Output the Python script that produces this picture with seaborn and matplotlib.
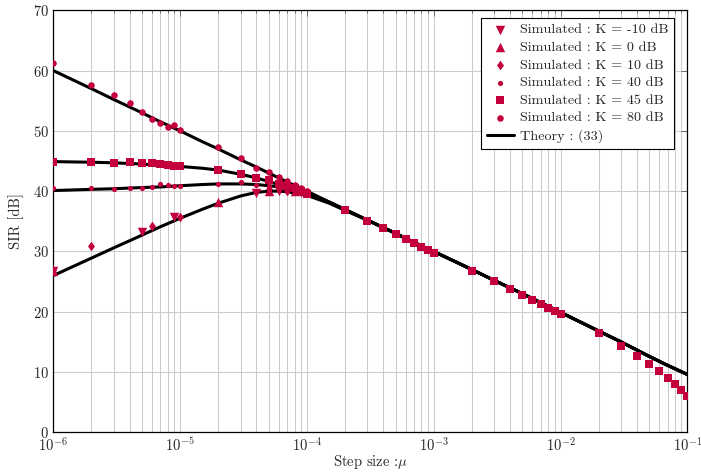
import matplotlib
matplotlib.use("Agg")
import matplotlib.pyplot as plt
import seaborn as sns
import pandas as pd
from matplotlib.ticker import LogLocator, NullFormatter

# ---------------- data ----------------
# theory curves (SIR in dB vs step size); low step-size part differs per K
theory_mu_head = [1e-6, 2e-6, 3e-6, 5e-6, 7e-6,
                  1e-5, 1.5e-5, 2e-5, 3e-5, 4e-5, 5e-5, 6e-5, 7e-5, 8.5e-5,
                  1e-4, 1.5e-4, 2e-4]
theory_k80_head = [60.0, 57.0, 55.2, 53.0, 51.5, 50.0, 48.2, 47.0, 45.2, 44.0,
                   43.0, 42.2, 41.5, 40.7, 40.0, 38.2, 37.0]
theory_k45_head = [44.9, 44.8, 44.7, 44.5, 44.3, 44.1, 43.8, 43.5, 42.8, 42.2,
                   41.6, 41.1, 40.7, 40.1, 39.6, 38.1, 36.9]
theory_k40_head = [40.1, 40.3, 40.4, 40.6, 40.7, 40.9, 41.1, 41.2, 41.2, 41.1,
                   40.9, 40.7, 40.4, 40.0, 39.6, 38.2, 36.9]
theory_low_head = [26.0, 28.9, 30.6, 32.7, 34.1, 35.5, 37.0, 38.0, 39.2, 39.8,
                   40.0, 40.0, 39.9, 39.6, 39.3, 38.0, 36.8]
# common high step-size part
theory_mu_tail = [3e-4, 5e-4, 7e-4,
                  1e-3, 2e-3, 3e-3, 5e-3, 7e-3,
                  1e-2, 2e-2, 3e-2, 5e-2, 7e-2,
                  1e-1]
theory_tail = [35.2, 33.0, 31.5,
               30.0, 27.0, 25.2, 23.0, 21.5,
               19.9, 16.8, 15.0, 12.6, 11.1,
               9.6]

# simulated points
mu_k45 = [1e-6, 2e-6, 3e-6, 4e-6, 5e-6, 6e-6, 7e-6, 8e-6, 9e-6,
          1e-5, 2e-5, 3e-5, 4e-5, 5e-5, 6e-5, 7e-5, 8e-5, 9e-5,
          1e-4, 2e-4, 3e-4, 4e-4, 5e-4, 6e-4, 7e-4, 8e-4, 9e-4,
          1e-3, 2e-3, 3e-3, 4e-3, 5e-3, 6e-3, 7e-3, 8e-3, 9e-3,
          1e-2, 2e-2, 3e-2, 4e-2, 5e-2, 6e-2, 7e-2, 8e-2, 9e-2,
          1e-1]
sir_k45 = [44.9, 44.9, 44.6, 44.9, 44.7, 44.6, 44.5, 44.4, 44.1,
           44.2, 43.5, 42.9, 42.1, 41.9, 41.2, 40.9, 40.6, 40.1,
           39.5, 36.8, 35.1, 33.9, 32.9, 32.1, 31.4, 30.8, 30.3,
           29.8, 26.8, 25.1, 23.7, 22.8, 22.0, 21.3, 20.7, 20.1,
           19.7, 16.4, 14.3, 12.6, 11.4, 10.2, 9.0, 8.0, 7.0,
           6.0]

mu_k80 = [1e-6, 2e-6, 3e-6, 4e-6, 5e-6, 6e-6, 7e-6, 8e-6, 9e-6,
          1e-5, 2e-5, 3e-5, 4e-5, 5e-5, 6e-5, 7e-5, 8e-5, 9e-5, 1e-4]
sir_k80 = [61.3, 57.6, 56.0, 54.6, 53.2, 51.9, 51.3, 50.7, 51.0,
           50.1, 47.3, 45.5, 43.9, 43.1, 42.3, 41.7, 41.1, 40.6, 40.1]

mu_k40 = [1e-6, 2e-6, 3e-6, 4e-6, 5e-6, 6e-6, 7e-6, 8e-6, 9e-6,
          1e-5, 2e-5, 3e-5, 4e-5, 5e-5, 6e-5, 7e-5, 8e-5, 9e-5, 1e-4]
sir_k40 = [40.5, 40.6, 40.3, 40.6, 40.6, 40.7, 41.2, 41.0, 40.9,
           40.9, 41.2, 41.6, 41.1, 40.9, 40.6, 40.4, 40.2, 39.9, 39.6]

mu_k10 = [1e-6, 2e-6, 6e-6, 1e-5, 5e-5, 7e-5, 9e-5]
sir_k10 = [26.9, 30.9, 34.2, 35.7, 40.3, 40.1, 39.8]

mu_km10 = [1e-6, 5e-6, 9e-6, 4e-5, 6e-5, 8e-5]
sir_km10 = [26.8, 33.2, 35.7, 39.7, 40.1, 40.0]

mu_k0 = [1e-6, 2e-5, 5e-5, 8e-5]
sir_k0 = [26.8, 38.2, 40.0, 40.0]

xticks = [1e-6, 1e-5, 1e-4, 1e-3, 1e-2, 1e-1]
yticks = [0, 10, 20, 30, 40, 50, 60, 70]

# ---------------- style ----------------
sns.set_style("white")
plt.rcParams.update({
    "font.family": ["cmr10", "DejaVu Serif"],
    "mathtext.fontset": "cm",
    "axes.formatter.use_mathtext": True,
    "axes.unicode_minus": False,
    "font.size": 10,
})

RED = "#c4003c"
GRID = "#cbcbcb"
DIAMOND = [(0, 1), (0.72, 0), (0, -1), (-0.72, 0)]

fig = plt.figure(figsize=(7.01, 4.72), dpi=100)
ax = fig.add_axes([53.3 / 701, 1 - 432.3 / 472, 634 / 701, 422 / 472])

# theory curves
for i, head in enumerate([theory_k80_head, theory_k45_head,
                          theory_k40_head, theory_low_head]):
    df = pd.DataFrame({"mu": theory_mu_head + theory_mu_tail,
                       "sir": head + theory_tail})
    sns.lineplot(data=df, x="mu", y="sir", ax=ax, color="black", lw=2.2,
                 estimator=None, sort=False, zorder=3,
                 label="Theory : (33)" if i == 0 else None)

# simulated markers
series = [
    (mu_km10, sir_km10, "v", 46, "Simulated : K = -10 dB"),
    (mu_k0, sir_k0, "^", 46, "Simulated : K = 0 dB"),
    (mu_k10, sir_k10, DIAMOND, 48, "Simulated : K = 10 dB"),
    (mu_k40, sir_k40, "o", 14, "Simulated : K = 40 dB"),
    (mu_k45, sir_k45, "s", 38, "Simulated : K = 45 dB"),
    (mu_k80, sir_k80, "o", 22, "Simulated : K = 80 dB"),
]
for mu, sir, mk, size, lab in series:
    df = pd.DataFrame({"mu": mu, "sir": sir})
    sns.scatterplot(data=df, x="mu", y="sir", ax=ax, marker=mk, s=size,
                    color=RED, linewidth=0, zorder=4, label=lab)

ax.set_xscale("log")
ax.set_xlim(1e-6, 1e-1)
ax.set_ylim(0, 70)
ax.set_xticks(xticks)
ax.set_yticks(yticks)
ax.xaxis.set_minor_locator(LogLocator(base=10, subs=range(2, 10), numticks=20))
ax.xaxis.set_minor_formatter(NullFormatter())

ax.grid(True, which="major", axis="both", color=GRID, lw=0.75, zorder=0)
ax.grid(True, which="minor", axis="x", color=GRID, lw=0.75, zorder=0)
ax.set_axisbelow(True)

ax.tick_params(which="both", direction="in", top=True, right=True,
               color="#444444", width=0.5, labelsize=10.5)
ax.tick_params(which="major", length=4, pad=3)
ax.tick_params(which="minor", length=2.5)
for sp in ax.spines.values():
    sp.set_color("black")
    sp.set_linewidth(0.9)

ax.set_xlabel(r"Step size :$\mu$", fontsize=10.5, va="top")
ax.xaxis.set_label_coords(0.5, -0.05)
ax.set_ylabel("SIR [dB]", fontsize=10.5, va="center")
ax.yaxis.set_label_coords(-0.058, 0.5)

handles, labels = ax.get_legend_handles_labels()
order = [labels.index(s[4]) for s in series] + [labels.index("Theory : (33)")]
leg = ax.legend([handles[i] for i in order], [labels[i] for i in order],
                loc="upper right", bbox_to_anchor=(0.979, 0.982),
                borderaxespad=0, fancybox=False, framealpha=1,
                edgecolor="black", fontsize=10.2, labelspacing=0.33,
                handlelength=1.9, handletextpad=0.45, borderpad=0.4)
leg.get_frame().set_linewidth(0.8)

fig.savefig("out.png", dpi=100)
